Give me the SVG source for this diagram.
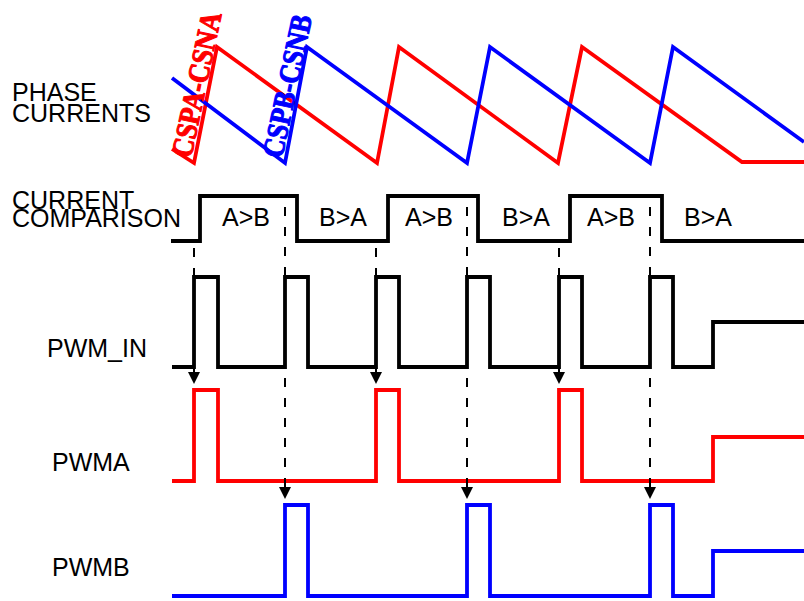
<svg xmlns="http://www.w3.org/2000/svg" width="804" height="601" viewBox="0 0 804 601">
<style>
.lbl{font-family:"Liberation Sans",Arial,sans-serif;font-size:25px;fill:#000}
.cmp{font-family:"Liberation Sans",Arial,sans-serif;font-size:25px;fill:#000;text-anchor:middle}
.rot{font-family:"Liberation Serif","Times New Roman",serif;font-weight:bold;font-size:30px;stroke-width:1.1;stroke-linejoin:round}
.wave{fill:none;stroke-width:3.8;stroke-linejoin:miter;stroke-linecap:butt}
.k{stroke:#000}.r{stroke:#ff0000}.b{stroke:#0000ff}
.dash{fill:none;stroke:#000;stroke-width:2;stroke-dasharray:9 11}
.shaft{fill:none;stroke:#000;stroke-width:2}
</style>
<defs>
<marker id="ah" markerUnits="userSpaceOnUse" viewBox="0 -6 12 12" markerWidth="12" markerHeight="12" refX="0" refY="0" orient="auto">
<path d="M0,-6 L12,0 L0,6 z" fill="#000"/>
</marker>
</defs>
<rect width="804" height="601" fill="#fff"/>

<g id="phase-currents">
<text class="lbl" x="12" y="101">PHASE<tspan x="12" y="122">CURRENTS</tspan></text>
<path class="wave r" d="M172,149 L194,163 L217,47 L377,163 L399,47 L558,163 L582,47 L742,162 L804,162"/>
<path class="wave b" d="M172,78 L285,163 L307,47 L467,163 L490,47 L650,163 L673,47 L804,142"/>
<text class="rot" fill="#ff0000" stroke="#ff0000" transform="translate(191,159) rotate(-78)" textLength="148" lengthAdjust="spacingAndGlyphs">CSPA-CSNA</text>
<text class="rot" fill="#0000ff" stroke="#0000ff" transform="translate(282,159) rotate(-78)" textLength="145" lengthAdjust="spacingAndGlyphs">CSPB-CSNB</text>
</g>

<g id="current-comparison">
<text class="lbl" x="12" y="209">CURRENT<tspan x="12" y="227">COMPARISON</tspan></text>
<path class="wave k" d="M171,241 H200 V196 H297 V241 H388 V196 H478 V241 H570 V196 H662 V241 H804"/>
<text class="cmp" x="246" y="226">A&gt;B</text>
<text class="cmp" x="343" y="226">B&gt;A</text>
<text class="cmp" x="429" y="226">A&gt;B</text>
<text class="cmp" x="526" y="226">B&gt;A</text>
<text class="cmp" x="611" y="226">A&gt;B</text>
<text class="cmp" x="708" y="226">B&gt;A</text>
</g>

<g id="pwm-in">
<text class="lbl" x="47" y="357">PWM_IN</text>
<path class="wave k" d="M172,367 H194 V277 H218 V367 H285 V277 H308 V367 H376 V277 H399 V367 H467 V277 H490 V367 H559 V277 H582 V367 H650 V277 H673 V367 H713 V322 H804"/>
</g>

<g id="pwma">
<text class="lbl" x="52" y="471">PWMA</text>
<path class="wave r" d="M172,481 H194 V390 H218 V481 H376 V390 H399 V481 H559 V390 H582 V481 H713 V437 H804"/>
</g>

<g id="pwmb">
<text class="lbl" x="52" y="576">PWMB</text>
<path class="wave b" d="M172,596 H285 V505 H308 V596 H467 V505 H490 V596 H650 V505 H673 V596 H713 V551 H804"/>
</g>

<g id="connectors">
<path class="dash" d="M194,248 V277"/>
<path class="shaft" d="M194,367 V372" marker-end="url(#ah)"/>
<path class="dash" d="M376,248 V277"/>
<path class="shaft" d="M376,367 V372" marker-end="url(#ah)"/>
<path class="dash" d="M559,248 V277"/>
<path class="shaft" d="M559,367 V372" marker-end="url(#ah)"/>
<path class="dash" d="M285,207 V277"/>
<path class="dash" d="M285,378 V487" marker-end="url(#ah)"/>
<path class="dash" d="M467,207 V277"/>
<path class="dash" d="M467,378 V487" marker-end="url(#ah)"/>
<path class="dash" d="M650,207 V277"/>
<path class="dash" d="M650,378 V487" marker-end="url(#ah)"/>
</g>
</svg>
